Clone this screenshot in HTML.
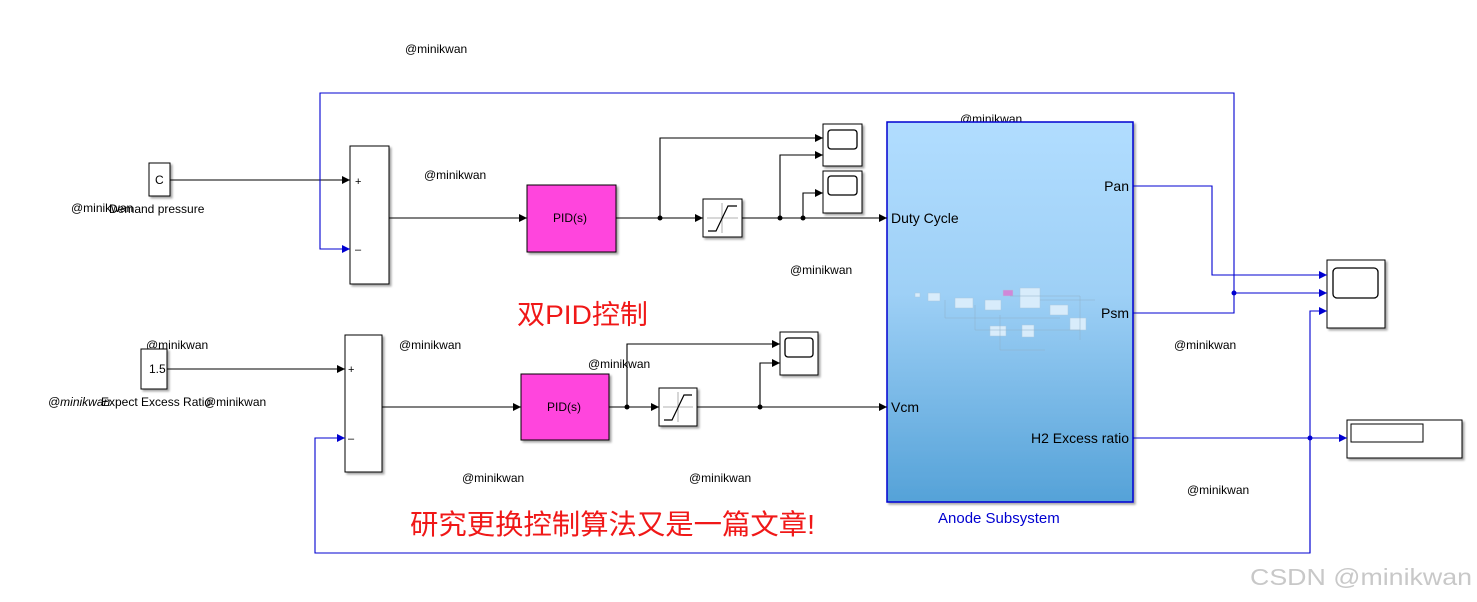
<!DOCTYPE html>
<html><head><meta charset="utf-8"><style>
body{margin:0;background:#fff;}
svg{display:block;font-family:"Liberation Sans","Noto Sans CJK SC",sans-serif;}
</style></head><body>
<svg width="1477" height="602" viewBox="0 0 1477 602" xmlns="http://www.w3.org/2000/svg">
<defs>
<marker id="ak" markerWidth="8" markerHeight="8" refX="8" refY="4" orient="auto" markerUnits="userSpaceOnUse"><path d="M0,0 L8,4 L0,8z" fill="#000"/></marker>
<marker id="ab" markerWidth="8" markerHeight="8" refX="8" refY="4" orient="auto" markerUnits="userSpaceOnUse"><path d="M0,0 L8,4 L0,8z" fill="#0000d0"/></marker>
<linearGradient id="g" x1="0" y1="0" x2="0" y2="1"><stop offset="0" stop-color="#b1ddff"/><stop offset="0.45" stop-color="#9ed0f6"/><stop offset="1" stop-color="#55a2d8"/></linearGradient>
<filter id="sh"><feDropShadow dx="2" dy="2" stdDeviation="1" flood-color="#000" flood-opacity="0.35"/></filter>
</defs>
<g font-size="12" fill="#000">
<text x="405" y="53">@minikwan</text>
<text x="424" y="179">@minikwan</text>
<text x="790" y="274">@minikwan</text>
<text x="960" y="123">@minikwan</text>
<text x="146" y="349">@minikwan</text>
<text x="399" y="349">@minikwan</text>
<text x="588" y="368">@minikwan</text>
<text x="462" y="482">@minikwan</text>
<text x="689" y="482">@minikwan</text>
<text x="1174" y="349">@minikwan</text>
<text x="1187" y="494">@minikwan</text>
<text x="71" y="212">@minikwan</text>
<text x="109" y="213">Demand pressure</text>
<text x="48" y="406" font-style="italic">@minikwan</text>
<text x="101" y="406">Expect Excess Ratio</text>
<text x="204" y="406">@minikwan</text>
</g>
<g stroke="#000" stroke-width="1" fill="#fff" filter="url(#sh)">
<rect x="149" y="163" width="21" height="33"/>
<rect x="141" y="349" width="26" height="40"/>
<rect x="350" y="146" width="39" height="138"/>
<rect x="345" y="335" width="37" height="137"/>
<rect x="527" y="185" width="89" height="67" fill="#ff44dd"/>
<rect x="521" y="374" width="88" height="66" fill="#ff44dd"/>
<rect x="703" y="199" width="39" height="38"/>
<rect x="659" y="388" width="38" height="38"/>
<rect x="823" y="124" width="39" height="42"/>
<rect x="823" y="171" width="39" height="42"/>
<rect x="780" y="332" width="38" height="43"/>
<rect x="1327" y="260" width="58" height="68"/>
<rect x="1347" y="420" width="115" height="38"/>
<rect x="887" y="122" width="246" height="380" fill="url(#g)" stroke="#0000d0" stroke-width="1.5"/>
</g>
<g fill="none" stroke="#000" stroke-width="1.3">
<rect x="828" y="130" width="29" height="19" rx="3"/>
<rect x="828" y="176" width="29" height="19" rx="3"/>
<rect x="785" y="338" width="28" height="19" rx="3"/>
<rect x="1333" y="268" width="45" height="30" rx="4"/>
<rect x="1351" y="424" width="72" height="18" stroke-width="1"/>
</g>
<g stroke="#999" stroke-width="0.8"><line x1="707" y1="218" x2="738" y2="218"/><line x1="722" y1="203" x2="722" y2="233"/><line x1="663" y1="407" x2="693" y2="407"/><line x1="678" y1="392" x2="678" y2="422"/></g>
<g stroke="#000" stroke-width="1.2" fill="none"><path d="M708,231 L716,231 L728,206 L737,206"/><path d="M664,420 L672,420 L684,395 L692,395"/></g>
<g fill="#d8ecfb" stroke="#a8c8e0" stroke-width="0.5"><rect x="955" y="298" width="18" height="10"/><rect x="985" y="300" width="16" height="10"/><rect x="1003" y="290" width="10" height="6" fill="#d088d8"/><rect x="1020" y="288" width="20" height="20"/><rect x="1050" y="305" width="18" height="10"/><rect x="1070" y="318" width="16" height="12"/><rect x="990" y="326" width="16" height="10"/><rect x="1022" y="325" width="12" height="12"/><rect x="928" y="293" width="12" height="8"/><rect x="915" y="293" width="5" height="4"/></g>
<g stroke="#8fb0c8" stroke-width="0.5" fill="none"><path d="M945,300 V318 H1060 M975,305 V330 H1080 M1010,296 H1080 V340 M1000,315 V350 H1045 M1040,300 H1095"/></g>
<g fill="#000" font-size="12">
<text x="155" y="184">C</text>
<text x="149" y="373">1.5</text>
<text x="355" y="185" font-size="11">+</text><text x="355" y="253" font-size="11">–</text>
<text x="348" y="373" font-size="11">+</text><text x="348" y="442" font-size="11">–</text>
<text x="553" y="222">PID(s)</text>
<text x="547" y="411">PID(s)</text>
</g>
<g font-size="14" fill="#000">
<text x="891" y="223">Duty Cycle</text>
<text x="891" y="412">Vcm</text>
<text x="1129" y="191" text-anchor="end">Pan</text>
<text x="1129" y="318" text-anchor="end">Psm</text>
<text x="1129" y="443" text-anchor="end">H2 Excess ratio</text>
</g>
<text x="938" y="523" font-size="15" fill="#0000d0">Anode Subsystem</text>
<text x="517" y="324" font-size="27" fill="#f01818" textLength="131" lengthAdjust="spacingAndGlyphs">双PID控制</text>
<text x="410" y="534" font-size="28" fill="#f01818" textLength="405" lengthAdjust="spacingAndGlyphs">研究更换控制算法又是一篇文章!</text>
<text x="1250" y="585" font-size="23" fill="#c8c8c8" textLength="222" lengthAdjust="spacingAndGlyphs">CSDN @minikwan</text>
<g stroke="#000" stroke-width="1.1" fill="none">
<path d="M170,180 H350" marker-end="url(#ak)"/>
<path d="M389,218 H527" marker-end="url(#ak)"/>
<path d="M616,218 H703" marker-end="url(#ak)"/>
<path d="M660,218 V138 H823" marker-end="url(#ak)"/>
<path d="M742,218 H887" marker-end="url(#ak)"/>
<path d="M780,218 V155 H823" marker-end="url(#ak)"/>
<path d="M803,218 V193 H823" marker-end="url(#ak)"/>
<path d="M167,369 H345" marker-end="url(#ak)"/>
<path d="M382,407 H521" marker-end="url(#ak)"/>
<path d="M609,407 H659" marker-end="url(#ak)"/>
<path d="M627,407 V344 H780" marker-end="url(#ak)"/>
<path d="M697,407 H887" marker-end="url(#ak)"/>
<path d="M760,407 V363 H780" marker-end="url(#ak)"/>
</g>
<g fill="#000"><circle cx="660" cy="218" r="2.5"/><circle cx="780" cy="218" r="2.5"/><circle cx="803" cy="218" r="2.5"/><circle cx="627" cy="407" r="2.5"/><circle cx="760" cy="407" r="2.5"/></g>
<g stroke="#0000d0" stroke-width="1.1" fill="none">
<path d="M1234,293 V93 H320 V249 H350" marker-end="url(#ab)"/>
<path d="M1133,186 H1212 V275 H1327" marker-end="url(#ab)"/>
<path d="M1133,313 H1234 V293 H1327" marker-end="url(#ab)"/>
<path d="M1133,438 H1347" marker-end="url(#ab)"/>
<path d="M1310,553 V311 H1327" marker-end="url(#ab)"/>
<path d="M1310,438 V553 H315 V438 H345" marker-end="url(#ab)"/>
</g>
<g fill="#0000d0"><circle cx="1234" cy="293" r="2.5"/><circle cx="1310" cy="438" r="2.5"/></g>
</svg>
</body></html>
